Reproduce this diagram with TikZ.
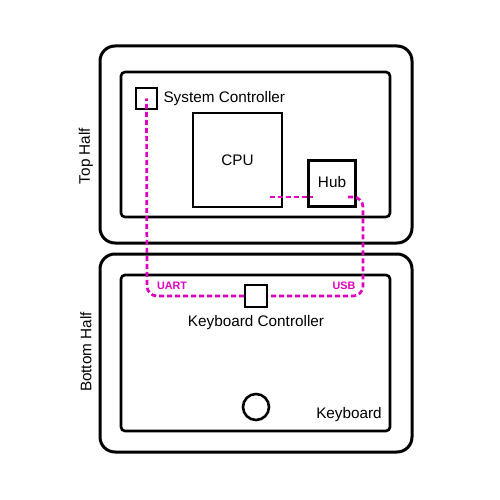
\documentclass[tikz,border=0pt]{standalone}
\usepackage{fontspec}
\setmainfont{Liberation Sans}
\definecolor{bus}{RGB}{221,0,190}
\begin{document}
\begin{tikzpicture}[x=1pt,y=-1pt,
  outer/.style={draw=black,line width=3pt,rounded corners=15pt},
  inner/.style={draw=black,line width=2.6pt,rounded corners=4pt},
  part/.style={draw=black,line width=2.6pt,fill=white},
  lbl/.style={font=\fontsize{15.3}{18}\selectfont,text=black},
  buslbl/.style={font=\bfseries\fontsize{10.8}{12}\selectfont,text=bus},
  busline/.style={draw=bus,line width=2.7pt,dash pattern=on 5pt off 3pt}]
\useasboundingbox (0,0) rectangle (500,500);
% frames
\draw[outer] (100,46) rectangle (412,243);
\draw[inner] (121,72) rectangle (390,217);
\draw[outer] (100,254) rectangle (412,452);
\draw[inner] (121,275) rectangle (390,431);
% side labels
\node[lbl,rotate=90] (top) at (86,156) {Top Half};
\node[lbl,rotate=90] (bot) at (86,352) {Bottom Half};
% parts
\node[part,minimum width=47pt,minimum height=46pt,inner sep=0pt] (hub) at (332,183.5) {};
\node[lbl] (hubt) at (332,182) {Hub};
\node[part,minimum width=89pt,minimum height=94pt,inner sep=0pt] (cpu) at (237.5,160) {};
\node[lbl] (cput) at (237.5,160) {CPU};
\node[part,minimum width=21pt,minimum height=21pt,inner sep=0pt] (sc) at (146.5,98.5) {};
\node[lbl,anchor=west] (sct) at (160,99) {System Controller};
\coordinate (cpuport) at (270,197);
\coordinate (hubin) at (313,197);
\coordinate (hubout) at (348,197);
% buses
\draw[busline] (cpuport) -- (hubin);
\draw[busline,rounded corners=10pt] (hubout) -- (363,197) -- (363,296) -- (147,296) -- (sc.center);
\node[part,minimum width=22pt,minimum height=22pt,inner sep=0pt] (kc) at (256,296) {};
\node[lbl] (kct) at (256,323) {Keyboard Controller};
\node[buslbl] (uart) at (172,286) {UART};
\node[buslbl] (usb) at (344,286) {USB};
\node[draw=black,line width=2.6pt,circle,minimum size=26pt,inner sep=0pt] (btn) at (256,407) {};
\node[lbl] (kb) at (349,415) {Keyboard};
\end{tikzpicture}
\end{document}
